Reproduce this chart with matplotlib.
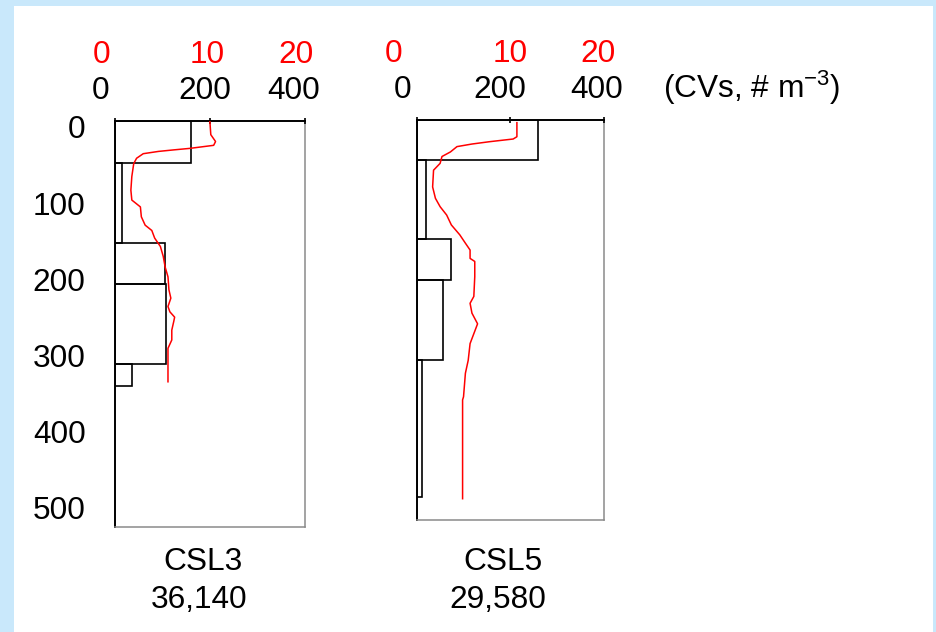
import matplotlib
matplotlib.use("Agg")
import matplotlib.pyplot as plt
import numpy as np
from matplotlib.patches import Rectangle
from matplotlib.transforms import ScaledTranslation

plt.rcParams["font.family"] = ["Liberation Sans", "DejaVu Sans"]
plt.rcParams["mathtext.default"] = "regular"

BG_BLUE = "#c9e8fb"
FS = 22.8

# depth strata (m) and net catch (CVs, # m-3), black scale 0-400
csl3_edges = [0, 55, 160, 215, 320, 349]
csl3_counts = [160, 16, 106, 108, 37]
csl5_edges = [0, 52, 157, 211, 316, 496]
csl5_counts = [260, 19, 73, 57, 11]

# red profile, red scale 0-20
csl3_prof_depth = [0, 18, 27, 32, 36, 38, 40, 43, 49, 56, 73, 91, 104, 113, 126, 137,
                   144, 154, 165, 178, 192, 205, 222, 233, 244, 251, 258, 264, 275,
                   288, 299, 319, 343]
csl3_prof_val = [10.0, 10.1, 10.6, 10.4, 7.9, 6.2, 4.6, 3.0, 2.3, 2.0, 1.8, 1.7, 1.8,
                 2.7, 2.8, 3.2, 3.9, 4.2, 4.8, 5.1, 5.3, 5.6, 5.7, 5.9, 5.6, 5.8, 6.3,
                 6.2, 6.0, 6.0, 5.6, 5.6, 5.6]
csl5_prof_depth = [3.5, 22, 25, 28.5, 31.6, 35, 42, 48, 57, 66, 88, 103, 114, 125, 138,
                   151, 162, 171, 182, 186, 206, 232, 241, 254, 268, 281, 294, 316,
                   333, 364, 368, 498]
csl5_prof_val = [10.7, 10.7, 10.3, 7.8, 5.9, 4.3, 3.6, 2.7, 2.5, 1.8, 1.7, 2.0, 2.5,
                 3.2, 3.7, 4.6, 5.2, 5.7, 5.7, 6.2, 6.2, 6.1, 5.7, 5.9, 6.5, 6.1, 5.7,
                 5.5, 5.2, 5.0, 4.9, 4.9]

black_ticks = [0, 200, 400]
red_ticks = [0, 10, 20]
depth_ticks = [0, 100, 200, 300, 400, 500]

fig = plt.figure(figsize=(9.37, 6.32), dpi=100, facecolor=BG_BLUE)
W, H = 937, 632
fig.patches.append(Rectangle((14 / W, 0), (933 - 14) / W, (632 - 6) / H,
                             transform=fig.transFigure, facecolor="white",
                             edgecolor="none", zorder=-5))


def px(dx, dy=0):
    return ScaledTranslation(dx / 100, dy / 100, fig.dpi_scale_trans)


def draw_panel(box, edges, counts, pdepth, pval, ymax, black_off, red_off, show_depth):
    l, t, r, b = box
    ax = fig.add_axes([l / W, (H - b) / H, (r - l) / W, (b - t) / H])
    ax.set_facecolor("none")
    ax2 = ax.twiny()

    heights = np.diff(edges)
    ax.barh(edges[:-1], counts, height=heights, align="edge", fill=False,
            edgecolor="black", linewidth=1.2)
    ax.set_xlim(0, 400)
    ax.set_ylim(ymax, 0)

    for side in ["top", "left"]:
        ax.spines[side].set_linewidth(1.4)
        ax.spines[side].set_color("black")
    for side in ["right", "bottom"]:
        ax.spines[side].set_linewidth(1.1)
        ax.spines[side].set_color("#8a8a8a")

    # black count scale on top
    ax.xaxis.tick_top()
    ax.set_xticks(black_ticks, [str(v) for v in black_ticks])
    ax.tick_params(axis="x", length=0, pad=11, labelsize=FS,
                   labelbottom=False, labeltop=True)
    for tk, dx in zip(ax.xaxis.get_major_ticks(), black_off):
        tk.label2.set_transform(tk.label2.get_transform() + px(dx))

    if show_depth:
        ax.set_yticks(depth_ticks, [str(v) for v in depth_ticks])
        ax.tick_params(axis="y", length=0, pad=21, labelsize=FS)
        for tk in ax.yaxis.get_major_ticks():
            tk.label1.set_transform(tk.label1.get_transform() + px(0, -6))
    else:
        ax.set_yticks([])

    # red profile scale on top, above the black one
    ax2.set_xlim(0, 20)
    ax2.plot(pval, pdepth, color="red", linewidth=1.1)
    for sp in ax2.spines.values():
        sp.set_visible(False)
    ax2.set_xticks(red_ticks, [str(v) for v in red_ticks])
    ax2.tick_params(axis="x", direction="inout", length=4, width=1.2,
                    pad=35, labelsize=FS, labelcolor="red", color="black")
    for tk, dx in zip(ax2.xaxis.get_major_ticks(), red_off):
        tk.label2.set_transform(tk.label2.get_transform() + px(dx))
    return ax


draw_panel((114.7, 121, 305, 527), csl3_edges, csl3_counts, csl3_prof_depth,
           csl3_prof_val, 534, [-14, -5, -11], [-13, -3, -9], True)
draw_panel((416.7, 120, 604, 520), csl5_edges, csl5_counts, csl5_prof_depth,
           csl5_prof_val, 526, [-14, -11, -7], [-23, 0, -6], False)

fig.text(663 / W, (H - 88) / H, "(CVs, # m$^{-3}$)", fontsize=FS,
         ha="left", va="center")

fig.text(203 / W, (H - 562) / H, "CSL3", fontsize=FS, ha="center", va="center")
fig.text(199 / W, (H - 600) / H, "36,140", fontsize=FS, ha="center", va="center")
fig.text(503 / W, (H - 562) / H, "CSL5", fontsize=FS, ha="center", va="center")
fig.text(498 / W, (H - 600) / H, "29,580", fontsize=FS, ha="center", va="center")

fig.savefig("out.png", dpi=100, facecolor=BG_BLUE)
